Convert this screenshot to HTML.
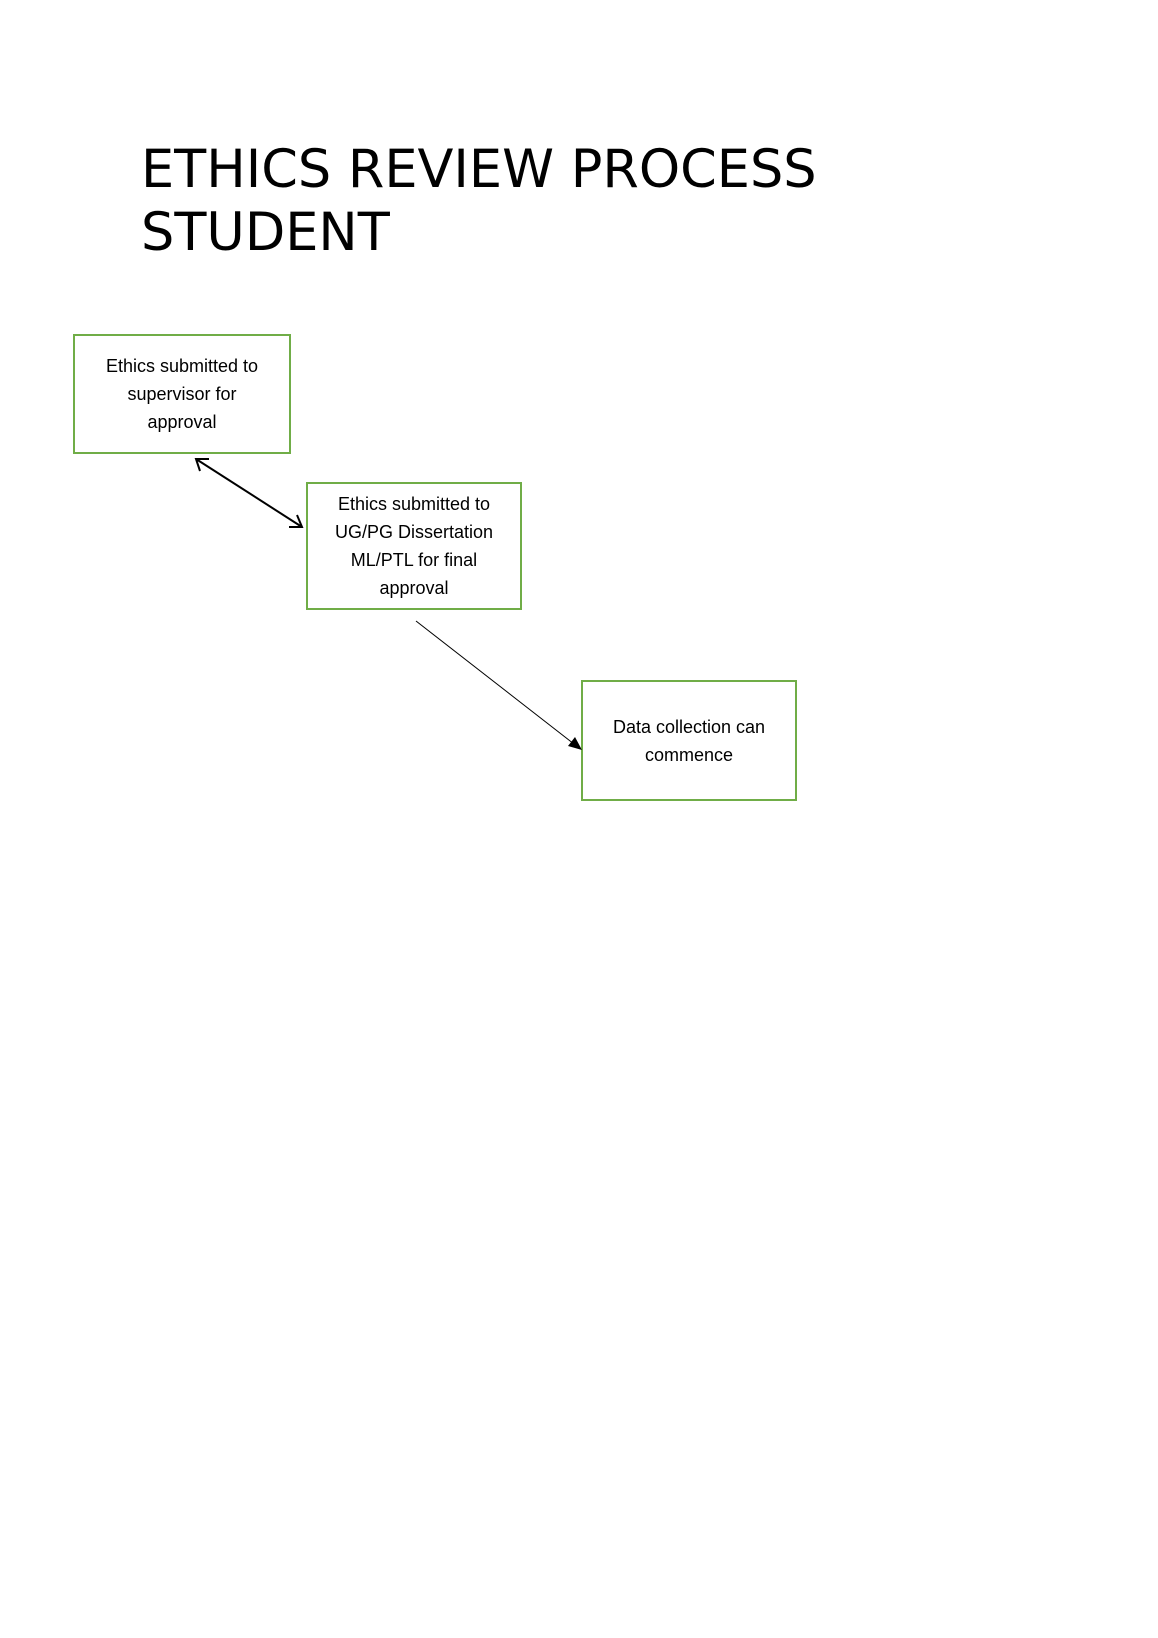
<!DOCTYPE html>
<html><head><style>
body{margin:0;width:1158px;height:1638px;background:#fff;position:relative;font-family:"Liberation Sans",sans-serif;}
.t{position:absolute;left:141px;top:138px;font-family:"DejaVu Sans",sans-serif;font-size:52.5px;line-height:63px;color:#000;}
.b{position:absolute;border:2px solid #70ad47;box-sizing:border-box;display:flex;align-items:center;justify-content:center;text-align:center;font-size:18px;line-height:28px;color:#000;}
</style></head><body>
<div class="t">ETHICS REVIEW PROCESS<br>STUDENT</div>
<div class="b" style="left:73px;top:334px;width:218px;height:120px;">Ethics submitted to<br>supervisor for<br>approval</div>
<div class="b" style="left:306px;top:482px;width:216px;height:128px;">Ethics submitted to<br>UG/PG Dissertation<br>ML/PTL for final<br>approval</div>
<div class="b" style="left:581px;top:680px;width:216px;height:121px;">Data collection can<br>commence</div>
<svg width="1158" height="1638" style="position:absolute;left:0;top:0">
<line x1="196" y1="459" x2="302" y2="527" stroke="#000" stroke-width="2"/>
<polyline points="200,471 196,459 209,459" fill="none" stroke="#000" stroke-width="2"/>
<polyline points="289,527 302,527 297,515" fill="none" stroke="#000" stroke-width="2"/>
<line x1="416" y1="621" x2="574" y2="744" stroke="#000" stroke-width="1"/>
<polygon points="582,750 568,746 575,737" fill="#000"/>
</svg>
</body></html>
